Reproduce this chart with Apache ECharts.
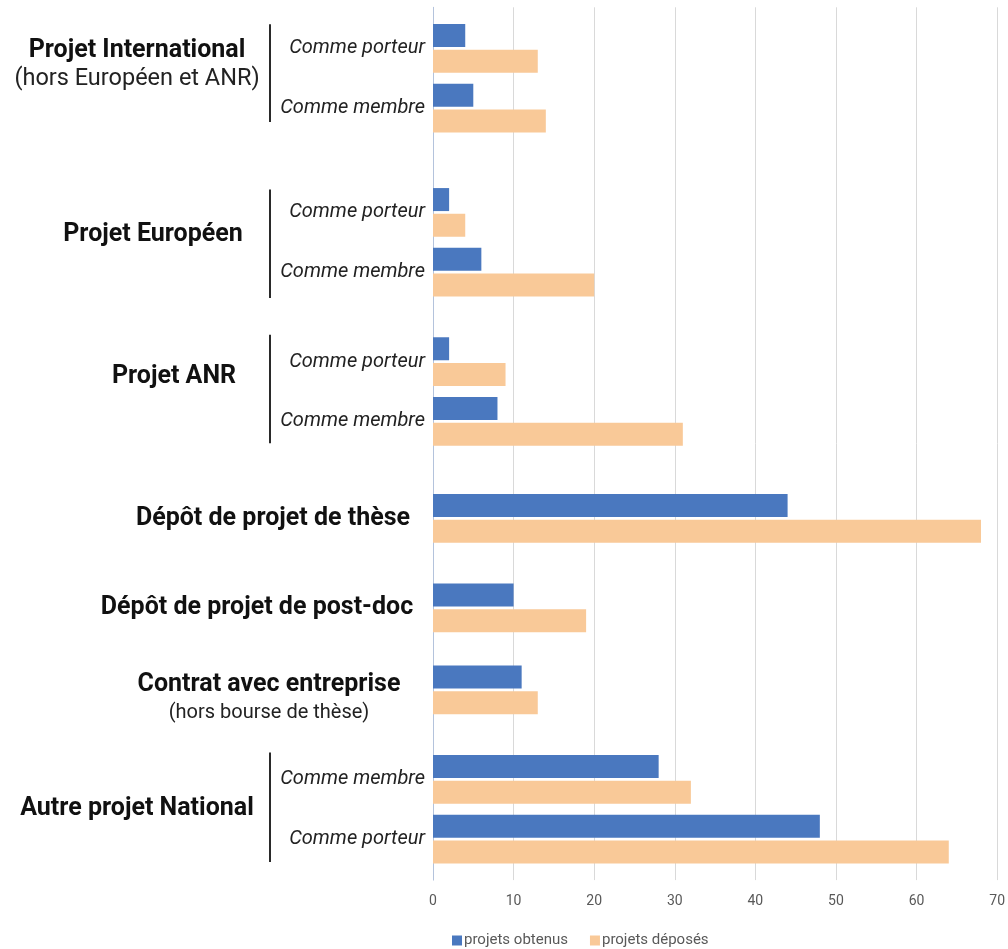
<!DOCTYPE html>
<html><head><meta charset="utf-8">
<script src="https://cdn.jsdelivr.net/npm/echarts@6/dist/echarts.min.js"></script>
<style>html,body{margin:0;padding:0;background:#fff}#c{width:1008px;height:949px}</style>
</head><body><div id="c"></div>
<script>
// ---- data ----
const rowLabels = ['Comme porteur','Comme membre','Comme porteur','Comme membre','Comme porteur','Comme membre','','','','Comme membre','Comme porteur'];
const groupLabels = ['Projet International','Projet Européen','Projet ANR','Dépôt de projet de thèse','Dépôt de projet de post-doc','Contrat avec entreprise','Autre projet National'];
const groupNotes = ['(hors Européen et ANR)','','','','','(hors bourse de thèse)',''];
const obtenus = [4,5,2,6,2,8,44,10,11,28,48];
const deposes = [13,14,4,20,9,31,68,19,13,32,64];
const seriesNames = ['projets obtenus','projets déposés'];
const xMin = 0, xMax = 70, xStep = 10;

// ---- layout (slot positions on the category axis) ----
const slotCount = 117;
const rowSlots = [5,13,27,35,47,55,68,80,91,103,111];
const groupSlots = [7,30,49,68,80,92,107];
const groupShift = [-133,-117,-96,3,-13,-1,-133];
const groupTopPad = [7,0,0,0,0,0,0];
const bracketRows = [[0,1],[2,3],[4,5],[9,10]];
const bracketPad = [[24,14],[23,26],[27,22],[27,23]];

const FONT = 'Roboto';
const slots = Array.from({length: slotCount}, (_, i) => String(i));
const rowAt = {}; rowSlots.forEach((s, i) => rowAt[s] = i);
const groupAt = {}; groupSlots.forEach((s, i) => groupAt[s] = i);
const toSlots = arr => slots.map((_, i) => rowAt[i] !== undefined ? arr[rowAt[i]] : null);

const rich = {};
groupShift.forEach((sh, i) => {
  const r = sh < 0 ? -2 * sh : 0, l = sh > 0 ? 2 * sh : 0;
  rich['b' + i] = {fontFamily: FONT, fontWeight: 'bold', fontSize: 25, color: '#111', padding: [groupTopPad[i], r, 0, l], lineHeight: 32};
  rich['n' + i] = {fontFamily: FONT, fontSize: i === 5 ? 20 : 23.5, color: '#222', padding: [0, r, 0, l], lineHeight: i === 5 ? 26 : 32};
});

const chart = echarts.init(document.getElementById('c'));
chart.setOption({
  animation: false,
  grid: {left: 433, right: 8, top: 7.3, bottom: 68.9, containLabel: false},
  legend: {
    data: seriesNames, left: 447, top: 928, icon: 'rect', itemWidth: 10, itemHeight: 10, itemGap: 22,
    textStyle: {fontFamily: FONT, fontSize: 15, color: '#595959', padding: [0, 0, 0, -3]}
  },
  xAxis: {
    type: 'value', min: xMin, max: xMax, interval: xStep,
    axisLine: {show: false}, axisTick: {show: false},
    splitLine: {lineStyle: {color: '#d9d9d9', width: 1}},
    axisLabel: {fontFamily: FONT, fontSize: 14, color: '#595959', margin: 14}
  },
  yAxis: [{
    type: 'category', data: slots, inverse: true,
    axisLine: {lineStyle: {color: '#b4c3dc', width: 1}}, axisTick: {show: false},
    axisLabel: {
      interval: 0, margin: 8, fontFamily: FONT, fontStyle: 'italic', fontSize: 20, color: '#222',
      formatter: v => rowAt[v] !== undefined ? rowLabels[rowAt[v]] : ''
    }
  }, {
    type: 'category', data: slots, inverse: true, position: 'left',
    axisLine: {show: false}, axisTick: {show: false},
    axisLabel: {
      interval: 0, margin: 163, align: 'center', rich: rich,
      formatter: v => {
        const g = groupAt[v];
        if (g === undefined) return '';
        let s = '{b' + g + '|' + groupLabels[g] + '}';
        if (groupNotes[g]) s += '\n{n' + g + '|' + groupNotes[g] + '}';
        return s;
      }
    }
  }],
  series: [
    {name: seriesNames[0], type: 'bar', yAxisIndex: 0, data: toSlots(obtenus), barWidth: 23, barGap: '12%', itemStyle: {color: '#4a78bf'}},
    {name: seriesNames[1], type: 'bar', yAxisIndex: 0, data: toSlots(deposes), barWidth: 23, barGap: '12%', itemStyle: {color: '#f9c998'}}
  ]
});

const lines = bracketRows.map(([a, b], i) => {
  const y1 = chart.convertToPixel({yAxisIndex: 0}, String(rowSlots[a])) - bracketPad[i][0];
  const y2 = chart.convertToPixel({yAxisIndex: 0}, String(rowSlots[b])) + bracketPad[i][1];
  return {type: 'line', shape: {x1: 270, y1: y1, x2: 270, y2: y2}, style: {stroke: '#2a2a2a', lineWidth: 2}};
});
chart.setOption({graphic: lines});
</script></body></html>
